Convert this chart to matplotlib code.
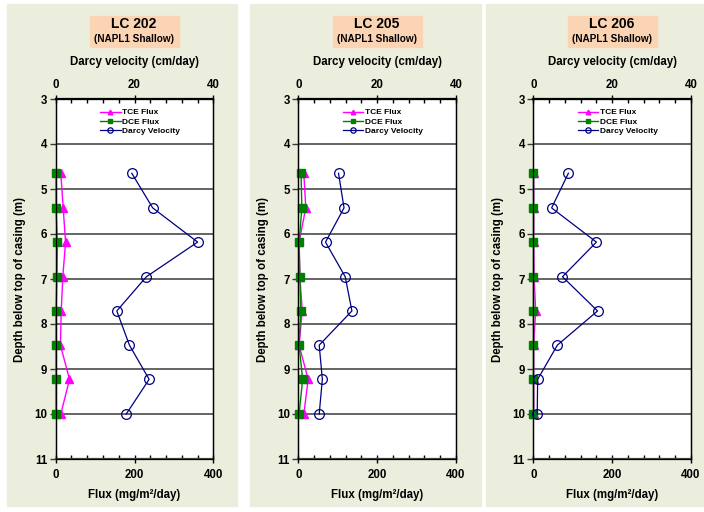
import matplotlib
matplotlib.use("Agg")
import matplotlib.pyplot as plt
from matplotlib.patches import Rectangle
from matplotlib.ticker import MultipleLocator

plt.rcParams['font.family'] = ['Liberation Sans', 'DejaVu Sans']
plt.rcParams['font.weight'] = 'bold'

W, H = 704, 512

depth = [4.65, 5.42, 6.18, 6.95, 7.71, 8.47, 9.23, 10.0]

wells = ["LC 202", "LC 205", "LC 206"]
subtitle = "(NAPL1 Shallow)"

tce_202 = [13, 19, 25, 18, 14, 12, 35, 13]
dce_202 = [1, 1, 4, 3, 1, 1, 1, 1]
darcy_202 = [19.3, 24.6, 36.0, 23.0, 15.5, 18.7, 23.7, 17.9]

tce_205 = [14, 19, 2, 4, 10, 2, 25, 14]
dce_205 = [7, 9, 2, 4, 6, 2, 11, 2]
darcy_205 = [10.2, 11.6, 6.9, 11.9, 13.6, 5.3, 6.1, 5.3]

tce_206 = [1, 1, 1, 2, 6, 1, 1, 1]
dce_206 = [0.5, 0.5, 0.5, 0.5, 0.5, 0.5, 0.5, 0.5]
darcy_206 = [8.9, 4.65, 16.0, 7.4, 16.3, 6.1, 1.1, 1.0]

tce = [tce_202, tce_205, tce_206]
dce = [dce_202, dce_205, dce_206]
darcy = [darcy_202, darcy_205, darcy_206]

fig = plt.figure(figsize=(W / 100, H / 100), dpi=100)

# panel backgrounds (pixel x0, x1)
panels = [(7, 237), (250, 481), (486, 704)]
for x0, x1 in panels:
    fig.patches.append(Rectangle((x0 / W, 1 - 506 / H), (x1 - x0) / W, (506 - 4) / H,
                                 transform=fig.transFigure, color='#EBEEDC', zorder=-10))

ax_left = [55.7, 298.3, 533.3]
ax_w = 157.7
top_px, bot_px = 99, 459

for i in range(3):
    l = ax_left[i]
    ax = fig.add_axes([l / W, 1 - bot_px / H, ax_w / W, (bot_px - top_px) / H])
    ax.set_facecolor('white')
    ax.set_ylim(11, 3)
    ax.set_xlim(0, 400)
    ax.set_xticks([0, 200, 400])
    ax.xaxis.set_minor_locator(MultipleLocator(40))
    ax.set_yticks(range(3, 12))
    ax.grid(axis='y', color='#3a3a3a', lw=1.1)
    ax.tick_params(axis='y', direction='out', length=4, width=1, color='#3a3a3a',
                   labelsize=8.3, pad=2)
    ax.tick_params(axis='x', which='major', direction='inout', length=6, width=1,
                   labelsize=8.3, pad=4)
    ax.tick_params(axis='x', which='minor', direction='in', length=3, width=1)
    for lab in ax.get_xticklabels() + ax.get_yticklabels():
        lab.set_fontweight('bold')
    ax.set_xlabel("Flux (mg/m\u00b2/day)", fontsize=8.3, fontweight='bold', labelpad=6)
    ax.set_ylabel("Depth below top of casing (m)", fontsize=8.3, fontweight='bold', labelpad=6)
    for s in ['left', 'right']:
        ax.spines[s].set_linewidth(1.0)
    ax.spines['bottom'].set_linewidth(1.6)
    ax.spines['bottom'].set_color('#444444')

    h1, = ax.plot(tce[i], depth, color='#FF00FF', marker='^', ms=6, lw=1,
                  clip_on=False, label='TCE Flux', zorder=3)
    h2, = ax.plot(dce[i], depth, color='#008000', marker='s', ms=6, lw=1,
                  clip_on=False, label='DCE Flux', zorder=4)

    ax2 = ax.twiny()
    ax2.set_xlim(0, 40)
    ax2.set_ylim(11, 3)
    ax2.set_xticks([0, 20, 40])
    ax2.xaxis.set_minor_locator(MultipleLocator(4))
    ax2.tick_params(axis='x', which='major', direction='inout', length=6, width=1,
                    labelsize=8.3, pad=3)
    ax2.tick_params(axis='x', which='minor', direction='in', length=3, width=1)
    for lab in ax2.get_xticklabels():
        lab.set_fontweight('bold')
    ax2.spines['top'].set_linewidth(1.6)
    ax2.set_xlabel("Darcy velocity (cm/day)", fontsize=8.3, fontweight='bold', labelpad=10)
    h3, = ax2.plot(darcy[i], depth, color='#000080', marker='o', ms=7, mfc='none',
                   mew=0.9, lw=0.9, clip_on=False, label='Darcy Velocity', zorder=5)

    leg = ax2.legend(handles=[h1, h2, h3], loc='upper left', bbox_to_anchor=(0.22, 1.0),
                     frameon=False, fontsize=6, handlelength=2.5, handletextpad=0.2,
                     labelspacing=0.15, markerscale=0.55, borderaxespad=0.75)
    for t in leg.get_texts():
        t.set_fontweight('bold')

    # title box
    cx = (l + ax_w / 2 - 0.5) / W
    fig.text(cx, 1 - 24 / H, wells[i], ha='center', va='center', fontsize=10,
             fontweight='bold', zorder=5)
    fig.text(cx, 1 - 39.5 / H, subtitle, ha='center', va='center', fontsize=7.2,
             fontweight='bold', zorder=5)
    fig.patches.append(Rectangle(((l + ax_w / 2 - 44.5) / W, 1 - 47 / H), 89 / W, 31 / H,
                                 transform=fig.transFigure, color='#FBD4B4', zorder=-5))

fig.savefig("out.png", dpi=100)
